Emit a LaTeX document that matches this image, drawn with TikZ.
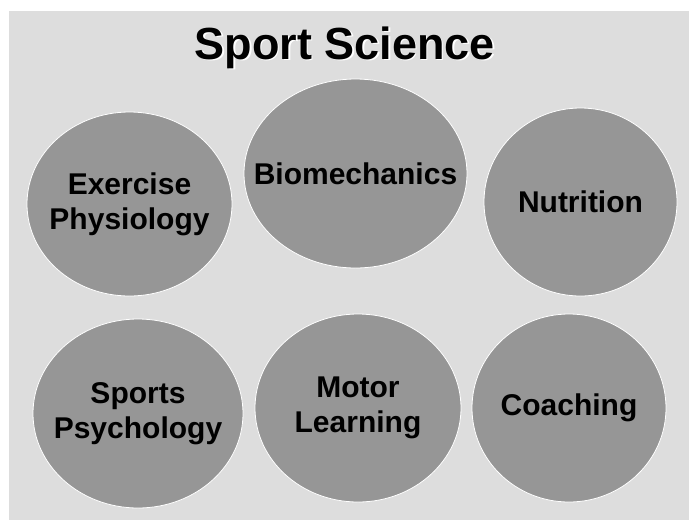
\documentclass[tikz,border=0pt]{standalone}
\usepackage{fontspec}
\setmainfont{Liberation Sans}
\usetikzlibrary{shapes.geometric}
\definecolor{panelgray}{HTML}{DDDDDD}
\definecolor{bubblegray}{HTML}{969696}

\begin{document}
\begin{tikzpicture}[x=1pt, y=-1pt,
  topic/.style={ellipse, draw=white, line width=0.8pt, fill=bubblegray, inner sep=0pt},
  topictext/.style={align=center, inner sep=0pt, font=\fontsize{30}{35}\selectfont\bfseries},
  heading/.style={anchor=base, font=\fontsize{45}{50}\selectfont\bfseries}]
  \useasboundingbox (0,0) rectangle (689,520);
  % Grey panel
  \fill[panelgray] (9,11) rectangle (689,520);

  % Title with a white drop shadow
  \node[heading, white] (titleshadow) at (346.5,60.5) {Sport Science};
  \node[heading] (title) at (345,59) {Sport Science};

  % Top row
  \node[topic, minimum width=205pt, minimum height=184pt,
    label={[topictext]center:Exercise\\Physiology}] (exphys) at (129.5,204) {};
  \node[topic, minimum width=223pt, minimum height=189pt,
    label={[topictext]center:Biomechanics}] (biomech) at (355.5,173.5) {};
  \node[topic, minimum width=193pt, minimum height=188pt,
    label={[topictext]center:Nutrition}] (nutrition) at (580.5,202) {};

  % Bottom row
  \node[topic, minimum width=210pt, minimum height=189pt,
    label={[topictext]center:Sports\\Psychology}] (sportpsy) at (138,413.5) {};
  \node[topic, minimum width=206pt, minimum height=188pt,
    label={[topictext]center:Motor\\Learning}] (motorlearn) at (358,408) {};
  \node[topic, minimum width=194pt, minimum height=188pt,
    label={[topictext]center:Coaching}] (coaching) at (569,408) {};
\end{tikzpicture}
\end{document}
